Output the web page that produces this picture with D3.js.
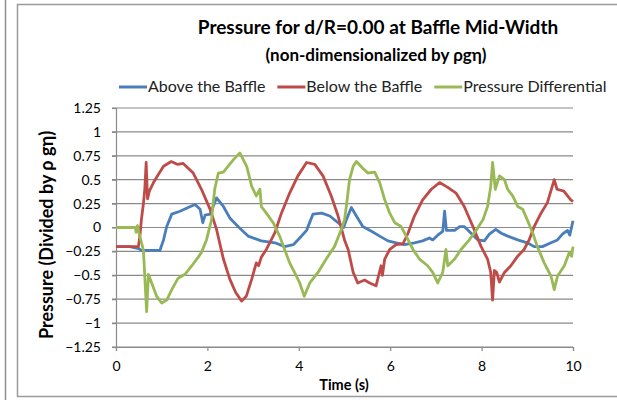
<!DOCTYPE html>
<html>
<head>
<meta charset="utf-8">
<script src="https://cdn.jsdelivr.net/npm/d3@7"></script>
<style>
  body { margin: 0; background: #fff; }
  svg { display: block; font-family: Lato, "Open Sans", sans-serif; }
</style>
</head>
<body>
<div id="chart"></div>
<script>
const xTicks = [0, 2, 4, 6, 8, 10]
const yTicks = [-1.25, -1, -0.75, -0.5, -0.25, 0, 0.25, 0.5, 0.75, 1, 1.25]
const seriesNames = ["Above the Baffle", "Below the Baffle", "Pressure Differential"]
const seriesColors = ["#4a7ebb", "#be4b48", "#98b954"]

// [time (s), pressure / (rho g eta)]
const aboveBaffle = [
  [0,-0.2],[0.3,-0.2],[0.5,-0.22],[0.55,-0.24],[0.96,-0.24],[1.04,-0.13],[1.11,0.01],[1.22,0.14],
  [1.4,0.17],[1.58,0.21],[1.73,0.24],[1.84,0.19],[1.9,0.05],[1.95,0.13],[2.06,0.14],[2.2,0.31],
  [2.35,0.22],[2.49,0.1],[2.67,0.01],[2.89,-0.09],[3.18,-0.14],[3.48,-0.16],[3.69,-0.2],[3.88,-0.18],
  [4.02,-0.11],[4.17,-0.03],[4.31,0.14],[4.5,0.15],[4.68,0.12],[4.86,0.05],[4.98,0],[5.04,0.08],
  [5.15,0.21],[5.26,0.12],[5.4,0.01],[5.59,-0.04],[5.77,-0.09],[5.95,-0.14],[6.13,-0.16],[6.31,-0.18],
  [6.53,-0.16],[6.71,-0.14],[6.86,-0.11],[6.93,-0.13],[7.04,-0.08],[7.15,-0.04],[7.19,0.17],[7.23,-0.03],
  [7.41,-0.03],[7.52,0.01],[7.62,0.01],[7.77,-0.06],[7.92,-0.13],[8.06,-0.14],[8.17,-0.07],[8.31,-0.02],
  [8.43,-0.06],[8.57,-0.09],[8.79,-0.13],[9,-0.16],[9.15,-0.2],[9.33,-0.2],[9.52,-0.16],[9.66,-0.13],
  [9.77,-0.07],[9.88,-0.03],[9.93,-0.08],[10,0.07]
]
const belowBaffle = [
  [0,-0.2],[0.49,-0.2],[0.52,-0.1],[0.56,0.1],[0.6,0.25],[0.63,0.4],[0.66,0.68],[0.69,0.3],
  [0.73,0.38],[0.82,0.47],[0.92,0.55],[1.04,0.64],[1.21,0.69],[1.35,0.66],[1.47,0.67],[1.58,0.62],
  [1.69,0.57],[1.87,0.4],[2.06,0.19],[2.2,-0.02],[2.35,-0.33],[2.49,-0.54],[2.62,-0.68],[2.75,-0.77],
  [2.85,-0.72],[2.97,-0.54],[3.07,-0.37],[3.12,-0.4],[3.18,-0.31],[3.29,-0.23],[3.48,-0.05],[3.62,0.15],
  [3.8,0.36],[3.98,0.54],[4.17,0.68],[4.35,0.66],[4.53,0.54],[4.71,0.33],[4.86,0.12],[5,-0.13],
  [5.08,-0.23],[5.19,-0.47],[5.29,-0.58],[5.44,-0.55],[5.55,-0.58],[5.69,-0.61],[5.8,-0.4],[5.83,-0.5],
  [5.88,-0.33],[5.99,-0.23],[6.13,-0.18],[6.28,-0.17],[6.39,-0.06],[6.53,0.12],[6.71,0.29],[6.9,0.4],
  [7.08,0.47],[7.26,0.42],[7.44,0.36],[7.62,0.22],[7.81,0.01],[7.99,-0.2],[8.13,-0.33],[8.2,-0.47],
  [8.24,-0.76],[8.28,-0.45],[8.33,-0.47],[8.39,-0.57],[8.5,-0.47],[8.64,-0.4],[8.79,-0.3],[8.93,-0.23],
  [9.04,-0.13],[9.15,0.01],[9.3,0.15],[9.44,0.26],[9.59,0.5],[9.65,0.4],[9.8,0.38],[9.95,0.29],[10,0.27]
]
const pressureDiff = [
  [0,0],[0.42,0],[0.44,-0.05],[0.47,0.02],[0.5,-0.05],[0.6,-0.24],[0.67,-0.88],[0.71,-0.49],
  [0.78,-0.58],[0.89,-0.72],[1,-0.79],[1.11,-0.76],[1.22,-0.65],[1.36,-0.53],[1.51,-0.49],[1.66,-0.4],
  [1.8,-0.31],[1.87,-0.26],[1.98,-0.13],[2.09,0.08],[2.16,0.4],[2.24,0.57],[2.35,0.58],[2.45,0.64],
  [2.57,0.71],[2.71,0.78],[2.86,0.64],[2.97,0.43],[3.07,0.33],[3.15,0.4],[3.18,0.22],[3.29,0.15],
  [3.44,0.05],[3.58,-0.09],[3.69,-0.23],[3.8,-0.37],[3.95,-0.51],[4.02,-0.58],[4.12,-0.72],[4.24,-0.58],
  [4.42,-0.47],[4.6,-0.33],[4.78,-0.2],[4.93,-0.02],[5,0.08],[5.04,0.22],[5.11,0.5],[5.19,0.64],
  [5.26,0.69],[5.4,0.62],[5.51,0.57],[5.66,0.58],[5.77,0.47],[5.88,0.29],[5.99,0.15],[6.1,0.05],
  [6.24,0.01],[6.35,-0.09],[6.5,-0.23],[6.64,-0.33],[6.82,-0.4],[6.93,-0.47],[7.04,-0.58],[7.15,-0.47],
  [7.22,-0.23],[7.26,-0.4],[7.41,-0.33],[7.55,-0.23],[7.73,-0.13],[7.88,-0.03],[8.03,0.08],[8.13,0.22],
  [8.2,0.43],[8.24,0.68],[8.3,0.4],[8.39,0.54],[8.5,0.5],[8.57,0.4],[8.68,0.33],[8.79,0.22],
  [8.9,0.19],[9,0.08],[9.12,-0.06],[9.22,-0.2],[9.37,-0.37],[9.52,-0.51],[9.59,-0.65],[9.66,-0.51],
  [9.81,-0.4],[9.92,-0.26],[9.97,-0.3],[10,-0.2]
]

const W = 617, H = 400
const svg = d3.select("#chart").append("svg")
  .attr("width", W)
  .attr("height", H)

// frame lines
svg.append("line")
  .attr("x1", 5.5).attr("x2", 5.5).attr("y1", 0).attr("y2", H)
  .attr("stroke", "#8c8c8c").attr("stroke-width", 1.5)
svg.append("rect")
  .attr("x", 17.5).attr("y", 4.5)
  .attr("width", 640).attr("height", 392)
  .attr("fill", "#fff").attr("stroke", "#9a9a9a").attr("stroke-width", 1.5)

const x = d3.scaleLinear().domain([0, 10]).range([116, 573])
const y = d3.scaleLinear().domain([-1.25, 1.25]).range([347, 108])

// gridlines
svg.append("g")
  .selectAll("line")
  .data(yTicks)
  .enter().append("line")
    .attr("x1", x(0) - 4).attr("x2", x(10))
    .attr("y1", d => y(d)).attr("y2", d => y(d))
    .attr("stroke", "#8a8a8a").attr("stroke-width", 1.2)

const yAxisCall = d3.axisLeft(y)
  .tickValues(yTicks)
  .tickSize(4)
  .tickPadding(11)
  .tickFormat(d => d3.format("")(d))
const yAxisGroup = svg.append("g")
  .attr("transform", `translate(${x(0)},0)`)
  .call(yAxisCall)

const xAxisCall = d3.axisBottom(x)
  .tickValues(xTicks)
  .tickSize(4)
  .tickPadding(10)
const xAxisGroup = svg.append("g")
  .attr("transform", `translate(0,${y(-1.25)})`)
  .call(xAxisCall)

for (const g of [xAxisGroup, yAxisGroup]) {
  g.select(".domain").attr("stroke", "#8a8a8a").attr("stroke-width", 1.2)
  g.selectAll(".tick line").attr("stroke", "#8a8a8a").attr("stroke-width", 1.2)
  g.selectAll("text").attr("font-family", "Lato, sans-serif").attr("font-size", "14px").attr("fill", "#000")
}

// series
const line = d3.line()
  .x(d => x(d[0]))
  .y(d => y(d[1]))
const allSeries = [aboveBaffle, belowBaffle, pressureDiff]
svg.append("g")
  .selectAll("path")
  .data(allSeries)
  .enter().append("path")
    .attr("fill", "none")
    .attr("stroke", (d, i) => seriesColors[i])
    .attr("stroke-width", 2.8)
    .attr("stroke-linejoin", "round")
    .attr("d", line)

// titles
svg.append("text")
  .attr("x", 378).attr("y", 34)
  .attr("text-anchor", "middle")
  .attr("font-size", "19px").attr("font-weight", "bold")
  .text("Pressure for d/R=0.00 at Baffle Mid-Width")
svg.append("text")
  .attr("x", 376).attr("y", 61)
  .attr("text-anchor", "middle")
  .attr("font-size", "17px").attr("font-weight", "bold")
  .text("(non-dimensionalized by ρgη)")

svg.append("text")
  .attr("x", 344).attr("y", 390)
  .attr("text-anchor", "middle")
  .attr("font-size", "14.5px").attr("font-weight", "bold")
  .text("Time (s)")
svg.append("text")
  .attr("transform", "translate(53,235) rotate(-90)")
  .attr("text-anchor", "middle")
  .attr("font-size", "18px").attr("font-weight", "bold")
  .text("Pressure (Divided by ρ gη)")

// legend
const legend = svg.append("g").attr("transform", "translate(0,87)")
let lx = 119
seriesNames.forEach((name, i) => {
  legend.append("line")
    .attr("x1", lx).attr("x2", lx + 28)
    .attr("y1", 0).attr("y2", 0)
    .attr("stroke", seriesColors[i]).attr("stroke-width", 3)
  const t = legend.append("text")
    .attr("x", lx + 29).attr("y", 5)
    .attr("font-size", "16px")
    .attr("fill", "#222")
    .text(name)
  lx += 29 + t.node().getComputedTextLength() + 12
})
</script>
</body>
</html>
